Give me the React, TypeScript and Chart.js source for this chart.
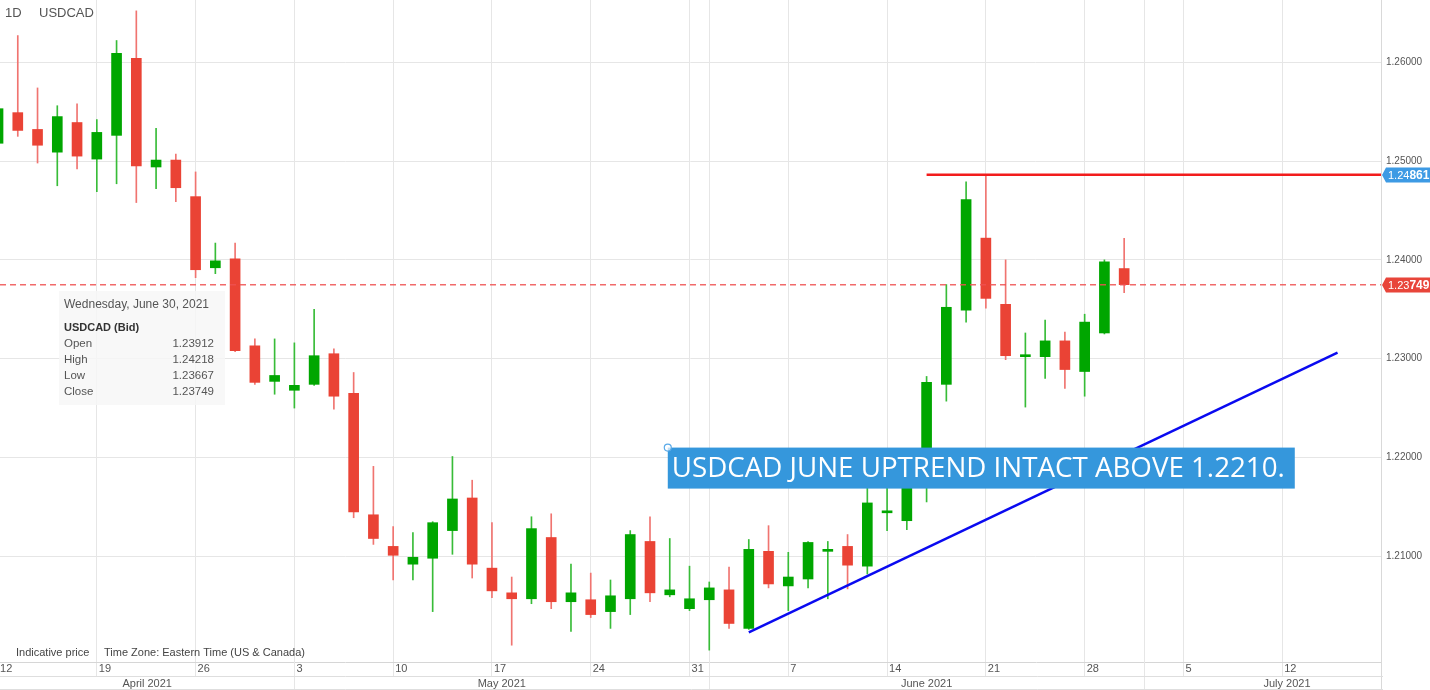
import React, { useEffect, useRef } from 'react';
import { Chart, registerables } from 'chart.js';

Chart.register(...registerables);

const dates = [
  '2021-04-12', '2021-04-13', '2021-04-14', '2021-04-15', '2021-04-16',
  '2021-04-19', '2021-04-20', '2021-04-21', '2021-04-22', '2021-04-23',
  '2021-04-26', '2021-04-27', '2021-04-28', '2021-04-29', '2021-04-30',
  '2021-05-03', '2021-05-04', '2021-05-05', '2021-05-06', '2021-05-07',
  '2021-05-10', '2021-05-11', '2021-05-12', '2021-05-13', '2021-05-14',
  '2021-05-17', '2021-05-18', '2021-05-19', '2021-05-20', '2021-05-21',
  '2021-05-24', '2021-05-25', '2021-05-26', '2021-05-27', '2021-05-28',
  '2021-05-31', '2021-06-01', '2021-06-02', '2021-06-03', '2021-06-04',
  '2021-06-07', '2021-06-08', '2021-06-09', '2021-06-10', '2021-06-11',
  '2021-06-14', '2021-06-15', '2021-06-16', '2021-06-17', '2021-06-18',
  '2021-06-21', '2021-06-22', '2021-06-23', '2021-06-24', '2021-06-25',
  '2021-06-28', '2021-06-29', '2021-06-30',
];

const opens = [
  1.2518, 1.2549, 1.2532, 1.2509, 1.2539,
  1.2502, 1.2526, 1.2604, 1.2494, 1.2501,
  1.2464, 1.2392, 1.2401, 1.2313, 1.2277,
  1.2268, 1.2274, 1.2305, 1.2265, 1.2142,
  1.2110, 1.2092, 1.2098, 1.2126, 1.2159,
  1.2088, 1.2063, 1.2057, 1.2119, 1.2054,
  1.2056, 1.2044, 1.2057, 1.2115, 1.2061,
  1.2047, 1.2056, 1.2066, 1.2027, 1.2105,
  1.2070, 1.2077, 1.2105, 1.2110, 1.2090,
  1.2144, 1.2136, 1.2180, 1.2274, 1.2349,
  1.2422, 1.2355, 1.2302, 1.2302, 1.2318,
  1.2287, 1.2326, 1.23912,
];
const highs = [
  1.2557, 1.2627, 1.2574, 1.2556, 1.2558,
  1.2542, 1.2622, 1.2652, 1.2533, 1.2507,
  1.2489, 1.2417, 1.2417, 1.2320, 1.2320,
  1.2316, 1.2350, 1.2310, 1.2286, 1.2191,
  1.2130, 1.2124, 1.2135, 1.2201, 1.2177,
  1.2134, 1.2079, 1.2140, 1.2143, 1.2092,
  1.2083, 1.2076, 1.2126, 1.2140, 1.2118,
  1.2090, 1.2074, 1.2089, 1.2117, 1.2131,
  1.2104, 1.2115, 1.2115, 1.2122, 1.2177,
  1.2170, 1.2193, 1.2282, 1.2375, 1.2479,
  1.24861, 1.2400, 1.2326, 1.2339, 1.2327,
  1.2345, 1.2400, 1.24218,
];
const lows = [
  1.2512, 1.2525, 1.2498, 1.2475, 1.2492,
  1.2469, 1.2477, 1.2458, 1.2472, 1.2459,
  1.2382, 1.2386, 1.2307, 1.2274, 1.2264,
  1.2250, 1.2273, 1.2249, 1.2139, 1.2112,
  1.2076, 1.2076, 1.2044, 1.2102, 1.2078,
  1.2058, 1.2010, 1.2052, 1.2047, 1.2024,
  1.2038, 1.2027, 1.2041, 1.2054, 1.2059,
  1.2045, 1.2005, 1.2027, 1.2026, 1.2068,
  1.2045, 1.2068, 1.2057, 1.2067, 1.2082,
  1.2126, 1.2127, 1.2155, 1.2257, 1.2337,
  1.2351, 1.2299, 1.2251, 1.2280, 1.2270,
  1.2262, 1.2325, 1.23667,
];
const closes = [
  1.2553, 1.2531, 1.2516, 1.2545, 1.2505,
  1.2529, 1.2609, 1.2495, 1.2501, 1.2473,
  1.2390, 1.2399, 1.2308, 1.2276, 1.2283,
  1.2273, 1.2303, 1.2262, 1.2145, 1.2118,
  1.2101, 1.2099, 1.2134, 1.2158, 1.2092,
  1.2065, 1.2057, 1.2128, 1.2054, 1.2063,
  1.2041, 1.2060, 1.2122, 1.2063, 1.2066,
  1.2057, 1.2068, 1.2032, 1.2107, 1.2072,
  1.2079, 1.2114, 1.2107, 1.2091, 1.2154,
  1.2146, 1.2187, 1.2276, 1.2352, 1.2461,
  1.2361, 1.2303, 1.2303, 1.2318, 1.2289,
  1.2337, 1.2398, 1.23749,
];

const tickIdx = [0, 5, 10, 15, 20, 25, 30, 35, 40, 45, 50, 55, 60, 65];
const tickLabels = ['12', '19', '26', '3', '10', '17', '24', '31', '7', '14', '21', '28', '5', '12'];
const monthLabels = ['April 2021', 'May 2021', 'June 2021', 'July 2021'];
const monthStart = [-7, 15, 36, 58];
const monthEnd = [15, 36, 58, 80];
const yTicks = [1.21, 1.22, 1.23, 1.24, 1.25, 1.26];
const xRange = [0.1, 70];
const yRange = [1.1993, 1.2663];

const symbolName = 'USDCAD';
const periodLabel = '1D';
const resistanceLevel = 1.24861;
const resistanceFrom = [47, 70];
const trendX = [38, 67.8];
const trendY = [1.20231, 1.23061];
const noteX = 33.9;
const noteY = 1.221;
const noteText = 'USDCAD JUNE UPTREND INTACT ABOVE 1.2210.';

const GREEN = '#00a600';
const RED = '#ea4335';
const GREEN_WICK = '#38bc38';
const RED_WICK = '#f07470';
const GRID = '#e6e6e6';
const FONT = '"Liberation Sans", Arial, sans-serif';

function splitPrice(v: number) {
  const s = v.toFixed(5);
  return [s.slice(0, 4), s.slice(4)];
}

const overlayPlugin = {
  id: 'overlay',
  beforeDatasetsDraw(chart: any) {
    const { ctx, chartArea, scales } = chart;
    const xs = scales.x;
    ctx.save();
    ctx.strokeStyle = GRID;
    ctx.lineWidth = 1;
    for (let m = 0; m < monthStart.length; m++) {
      const px = Math.round(xs.getPixelForValue(monthStart[m])) + 0.5;
      if (px > chartArea.left && px < chartArea.right) {
        ctx.beginPath();
        ctx.moveTo(px, chartArea.top);
        ctx.lineTo(px, chart.height);
        ctx.stroke();
      }
    }
    ctx.restore();
  },
  afterDatasetsDraw(chart: any) {
    const { ctx, chartArea, scales } = chart;
    const xs = scales.x;
    const ys = scales.y;
    const W = chart.width;
    const H = chart.height;
    const last = closes.length - 1;
    ctx.save();

    // current price dashed line
    const cy = ys.getPixelForValue(closes[last]);
    ctx.strokeStyle = 'rgba(238, 80, 80, 0.85)';
    ctx.lineWidth = 1.5;
    ctx.setLineDash([6, 4]);
    ctx.beginPath();
    ctx.moveTo(chartArea.left, cy);
    ctx.lineTo(chartArea.right, cy);
    ctx.stroke();
    ctx.setLineDash([]);

    // right axis border
    ctx.strokeStyle = '#d9d9d9';
    ctx.lineWidth = 1;
    ctx.beginPath();
    ctx.moveTo(chartArea.right + 0.5, 0);
    ctx.lineTo(chartArea.right + 0.5, H);
    ctx.stroke();

    // bottom rows
    ctx.strokeStyle = '#dedede';
    ctx.beginPath();
    ctx.moveTo(0, chartArea.bottom + 14.5);
    ctx.lineTo(chartArea.right + 2, chartArea.bottom + 14.5);
    ctx.moveTo(0, H - 0.5);
    ctx.lineTo(chartArea.right + 2, H - 0.5);
    ctx.stroke();
    ctx.fillStyle = '#555';
    ctx.font = `11px ${FONT}`;
    ctx.textAlign = 'center';
    ctx.textBaseline = 'middle';
    for (let m = 0; m < monthLabels.length; m++) {
      const a = Math.max(xs.getPixelForValue(monthStart[m]), 0);
      const b = Math.min(xs.getPixelForValue(monthEnd[m]), W);
      ctx.fillText(monthLabels[m], (a + b) / 2, chartArea.bottom + 22);
    }

    // top-left symbol
    ctx.textAlign = 'left';
    ctx.fillStyle = '#555';
    ctx.font = `13px ${FONT}`;
    ctx.fillText(periodLabel, 5, 13);
    ctx.fillText(symbolName, 39, 13);

    // bottom-left notes
    ctx.font = `11px ${FONT}`;
    ctx.fillStyle = '#444';
    ctx.fillText('Indicative price', 16, chartArea.bottom - 9);
    ctx.fillText('Time Zone: Eastern Time (US & Canada)', 104, chartArea.bottom - 9);

    // info panel
    ctx.fillStyle = 'rgba(246, 246, 246, 0.82)';
    ctx.fillRect(59, 291, 166, 114);
    const d = new Date(dates[last] + 'T12:00:00');
    const dateStr = d.toLocaleDateString('en-US', { weekday: 'long', year: 'numeric', month: 'long', day: 'numeric' });
    ctx.fillStyle = '#555';
    ctx.font = `12px ${FONT}`;
    ctx.fillText(dateStr, 64, 305);
    ctx.fillStyle = '#333';
    ctx.font = `bold 11px ${FONT}`;
    ctx.fillText(symbolName + ' (Bid)', 64, 328);
    const rows: [string, number][] = [
      ['Open', opens[last]],
      ['High', highs[last]],
      ['Low', lows[last]],
      ['Close', closes[last]],
    ];
    ctx.font = `11.5px ${FONT}`;
    rows.forEach((r, i) => {
      const y = 344 + i * 16;
      ctx.fillStyle = '#555';
      ctx.textAlign = 'left';
      ctx.fillText(r[0], 64, y);
      ctx.textAlign = 'right';
      ctx.fillText(r[1].toFixed(5), 214, y);
    });

    // annotation
    const ax = xs.getPixelForValue(noteX);
    const ay = ys.getPixelForValue(noteY);
    ctx.font = `26px "Open Sans", sans-serif`;
    const w26 = ctx.measureText(noteText).width;
    const fs = (26 * 613) / w26;
    ctx.font = `${fs.toFixed(2)}px "Open Sans", sans-serif`;
    ctx.fillStyle = '#3597dc';
    ctx.fillRect(ax, ay, 627, 41);
    ctx.fillStyle = '#ffffff';
    ctx.textAlign = 'left';
    ctx.textBaseline = 'middle';
    ctx.fillText(noteText, ax + 4, ay + 22);
    ctx.beginPath();
    ctx.arc(ax, ay, 3.5, 0, Math.PI * 2);
    ctx.fillStyle = 'rgba(255,255,255,0.7)';
    ctx.fill();
    ctx.strokeStyle = '#5aaae8';
    ctx.lineWidth = 1.2;
    ctx.stroke();

    // price tags
    const tag = (val: number, color: string) => {
      const py = Math.round(ys.getPixelForValue(val));
      const x0 = chartArea.right + 1;
      ctx.fillStyle = color;
      ctx.beginPath();
      ctx.moveTo(x0, py);
      ctx.lineTo(x0 + 4, py - 7.5);
      ctx.lineTo(W, py - 7.5);
      ctx.lineTo(W, py + 7.5);
      ctx.lineTo(x0 + 4, py + 7.5);
      ctx.closePath();
      ctx.fill();
      const [a, b] = splitPrice(val);
      ctx.fillStyle = '#fff';
      ctx.textAlign = 'left';
      ctx.textBaseline = 'middle';
      ctx.font = `11px ${FONT}`;
      ctx.fillText(a, x0 + 6, py + 0.5);
      const wa = ctx.measureText(a).width;
      ctx.font = `bold 12px ${FONT}`;
      ctx.fillText(b, x0 + 6 + wa, py + 0.5);
    };
    tag(resistanceLevel, '#3d9ae4');
    tag(closes[last], '#e8453a');

    ctx.restore();
  },
};

export default function App() {
  const ref = useRef<HTMLCanvasElement | null>(null);
  useEffect(() => {
    document.body.style.margin = '0';
    const canvas = ref.current;
    if (!canvas) return;
    const up = opens.map((o, i) => closes[i] >= o);
    const chart = new Chart(canvas, {
      type: 'bar',
      data: {
        datasets: [
          {
            type: 'line',
            data: [
              { x: trendX[0], y: trendY[0] },
              { x: trendX[1], y: trendY[1] },
            ],
            borderColor: '#0a0af0',
            borderWidth: 2.5,
            pointRadius: 0,
            order: 0,
          } as any,
          {
            type: 'line',
            data: [
              { x: resistanceFrom[0], y: resistanceLevel },
              { x: resistanceFrom[1], y: resistanceLevel },
            ],
            borderColor: '#f21c1c',
            borderWidth: 2.5,
            pointRadius: 0,
            order: 0,
          } as any,
          {
            type: 'bar',
            data: opens.map((o, i) => ({ x: i, y: [o, closes[i]] })),
            backgroundColor: up.map((u) => (u ? GREEN : RED)),
            barThickness: 10,
            minBarLength: 2,
            grouped: false,
            borderWidth: 0,
            order: 1,
          } as any,
          {
            type: 'bar',
            data: opens.map((_, i) => ({ x: i, y: [lows[i], highs[i]] })),
            backgroundColor: up.map((u) => (u ? GREEN_WICK : RED_WICK)),
            barThickness: 1,
            grouped: false,
            borderWidth: 0,
            order: 2,
          } as any,
        ],
      },
      options: {
        responsive: false,
        animation: false,
        devicePixelRatio: 1,
        layout: { padding: 0 },
        plugins: { legend: { display: false }, tooltip: { enabled: false }, title: { display: false } },
        scales: {
          x: {
            type: 'linear',
            min: xRange[0],
            max: xRange[1],
            offset: false,
            position: 'bottom',
            afterBuildTicks: (s: any) => {
              s.ticks = tickIdx.map((v) => ({ value: v }));
            },
            afterFit: (s: any) => {
              s.height = 28;
              s.paddingLeft = 0;
              s.paddingRight = 0;
            },
            ticks: {
              autoSkip: false,
              maxRotation: 0,
              minRotation: 0,
              align: 'start',
              labelOffset: 2,
              padding: -14,
              color: '#555',
              font: { family: FONT, size: 11 },
              callback: (v: any) => tickLabels[tickIdx.indexOf(v)] ?? '',
            },
            grid: { color: GRID, drawTicks: true, tickLength: 14, tickColor: GRID, offset: false },
            border: { color: '#d6d6d6' },
          },
          y: {
            type: 'linear',
            position: 'right',
            min: yRange[0],
            max: yRange[1],
            afterBuildTicks: (s: any) => {
              s.ticks = yTicks.map((v) => ({ value: v }));
            },
            afterFit: (s: any) => {
              s.width = 49;
              s.paddingTop = 0;
              s.paddingBottom = 0;
            },
            ticks: {
              padding: 5,
              color: '#555',
              font: { family: FONT, size: 10 },
              callback: (v: any) => Number(v).toFixed(5),
            },
            grid: { color: GRID, drawTicks: false },
            border: { display: false },
          },
        },
      } as any,
      plugins: [overlayPlugin],
    });
    return () => chart.destroy();
  }, []);
  return (
    <div style={{ width: 1430, height: 690, position: 'relative', background: '#fff' }}>
      <canvas ref={ref} width={1430} height={690} />
    </div>
  );
}
